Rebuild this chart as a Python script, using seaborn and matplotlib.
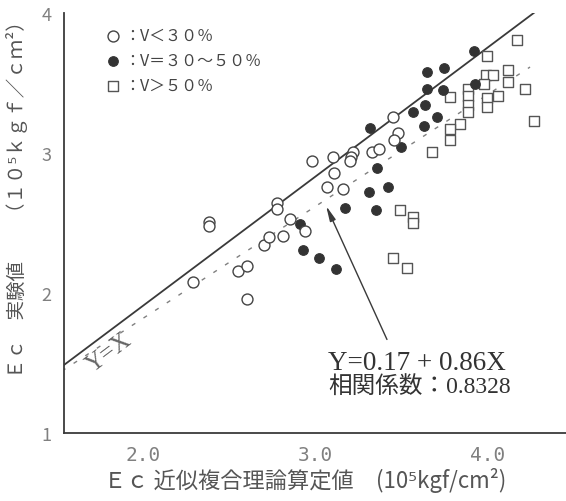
import numpy as np
import pandas as pd
import matplotlib
matplotlib.use('Agg')
import matplotlib.pyplot as plt
import seaborn as sns

# V < 30 %  (open circles)
low_x = [2.29, 2.38, 2.38, 2.55, 2.60, 2.60, 2.70, 2.73, 2.81, 2.78, 2.78, 2.85, 2.94,
         2.98, 3.10, 3.22, 3.21, 3.20, 3.11, 3.07, 3.16, 3.33, 3.37, 3.45, 3.48, 3.46]
low_y = [2.08, 2.51, 2.48, 2.16, 2.19, 1.96, 2.34, 2.40, 2.41, 2.64, 2.60, 2.53, 2.44,
         2.94, 2.97, 3.01, 2.97, 2.94, 2.86, 2.76, 2.74, 3.01, 3.03, 3.26, 3.14, 3.09]

# V = 30~50 %  (filled circles)
mid_x = [2.91, 2.93, 3.02, 3.12, 3.17, 3.35, 3.31, 3.42, 3.36, 3.32, 3.50,
         3.57, 3.63, 3.64, 3.71, 3.65, 3.74, 3.65, 3.75, 3.92, 3.93]
mid_y = [2.49, 2.31, 2.25, 2.17, 2.61, 2.59, 2.72, 2.76, 2.89, 3.18, 3.04,
         3.29, 3.19, 3.34, 3.26, 3.46, 3.45, 3.58, 3.61, 3.73, 3.49]

# V > 50 %  (open squares)
high_x = [4.17, 4.00, 3.99, 4.03, 4.12, 4.12, 3.98, 3.89, 3.89, 3.89, 3.89, 4.22, 3.78,
          4.06, 4.00, 4.00, 4.27, 3.84, 3.78, 3.78, 3.68, 3.49, 3.57, 3.57, 3.45, 3.53]
high_y = [3.81, 3.69, 3.56, 3.56, 3.59, 3.51, 3.49, 3.46, 3.41, 3.34, 3.29, 3.46, 3.40,
          3.41, 3.39, 3.33, 3.23, 3.21, 3.17, 3.09, 3.01, 2.59, 2.54, 2.50, 2.25, 2.18]

# lines as drawn on the original figure (end points)
eq_x = [1.539, 4.277]
eq_y = [1.486, 4.007]
fit_x = [1.527, 4.248]
fit_y = [1.443, 3.614]

x_ticks = [2.0, 3.0, 4.0]
x_tick_labels = ['2.0', '3.0', '4.0']
y_ticks = [1, 2, 3, 4]
y_tick_labels = ['1', '2', '3', '4']

labels = ['：V＜３０％', '：V＝３０～５０％', '：V＞５０％']

sns.set_style('white')
plt.rcParams['font.family'] = ['Noto Sans CJK JP', 'DejaVu Sans']

fig = plt.figure(figsize=(5.66, 5.02), dpi=100)
ax = fig.add_axes([64 / 566, 68 / 502, 502 / 566, 420 / 502])

ink = '#3a3a3a'

# reference lines
ax.plot(eq_x, eq_y, color=ink, lw=1.3, zorder=1)
ax.plot(fit_x, fit_y, color='#808080', lw=1.0, dashes=(3, 7), zorder=1)

sns.scatterplot(x=high_x, y=high_y, marker='s', s=52, facecolor='white',
                edgecolor='#555555', linewidth=1.0, ax=ax, label=labels[2], zorder=3)
sns.scatterplot(x=mid_x, y=mid_y, marker='o', s=48, color='#333333',
                edgecolor='#333333', linewidth=0.8, ax=ax, label=labels[1], zorder=4)
sns.scatterplot(x=low_x, y=low_y, marker='o', s=62, facecolor='white',
                edgecolor='#444444', linewidth=1.0, ax=ax, label=labels[0], zorder=5)

ax.set_xlim(1.539, 4.457)
ax.set_ylim(1, 4)

sns.despine(ax=ax)
for side in ['left', 'bottom']:
    ax.spines[side].set_color(ink)
    ax.spines[side].set_linewidth(1.3)

ax.set_xticks(x_ticks)
ax.set_xticklabels(x_tick_labels)
ax.set_yticks(y_ticks)
ax.set_yticklabels(y_tick_labels)
ax.tick_params(direction='in', length=16, width=1.2, color=ink,
               labelcolor='#808080', labelsize=13, pad=9)
for t in ax.get_xticklabels():
    t.set_fontfamily('DejaVu Sans Mono')
    t.set_fontsize(14)

ax.set_xlabel('Ｅｃ 近似複合理論算定値　(10⁵kgf/cm²)', fontsize=16, color='#555555')
ax.xaxis.set_label_coords(0.48, -0.080)
ax.set_ylabel('Ｅｃ　実験値　　（１０⁵ｋｇｆ／ｃｍ²）', fontsize=14, color='#555555')
ax.yaxis.set_label_coords(-0.072, 0.57)

# legend (reorder to match original)
h, l = ax.get_legend_handles_labels()
order = [2, 1, 0]
leg = ax.legend([h[i] for i in order], [l[i] for i in order], loc='upper left',
                bbox_to_anchor=(0.082, 0.966), frameon=False, fontsize=11.5,
                handlelength=1.0, handletextpad=0.2, labelspacing=0.5,
                borderpad=0, borderaxespad=0)
for t in leg.get_texts():
    t.set_color('#444444')

serif = ['Liberation Serif', 'Noto Sans CJK JP']
ax.text(1.80, 1.575, 'Y=X', rotation=37, fontsize=18, family=serif, color='#666666',
        ha='center', va='center', rotation_mode='anchor')

ax.annotate('', xy=(3.056, 2.64), xytext=(3.423, 1.65),
            arrowprops=dict(arrowstyle='-|>,head_length=0.9,head_width=0.18',
                            color=ink, lw=1.0))
ax.text(3.074, 1.507, 'Y=0.17 + 0.86X', fontsize=19.5, family=serif, color='#333333',
        ha='left', va='center')
ax.text(3.074, 1.329, '相関係数：0.8328', fontsize=17, family=serif, color='#333333',
        ha='left', va='center')

fig.savefig('out.png', dpi=100)
